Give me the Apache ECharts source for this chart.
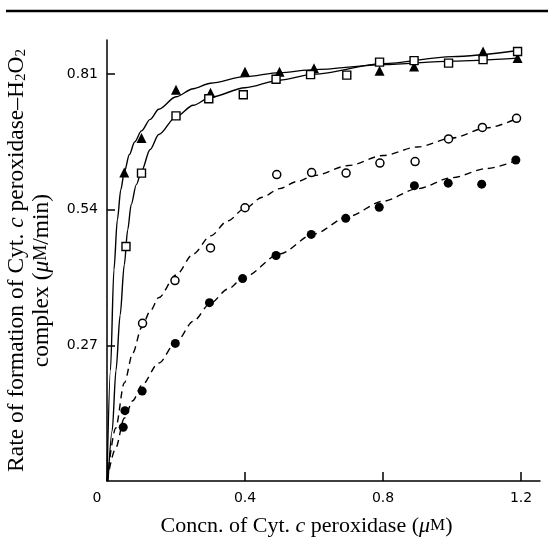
<!DOCTYPE html>
<html>
<head>
<meta charset="utf-8">
<script src="https://cdn.jsdelivr.net/npm/echarts@6/dist/echarts.min.js"></script>
<style>
html,body{margin:0;padding:0;background:#fff;}
#chart{width:548px;height:538px;}
</style>
</head>
<body>
<div id="chart"></div>
<script>
// ---- data ----
// measured points [concn (µM), rate (µM/min)]
const triangles = [[0.05,0.614],[0.10,0.683],[0.20,0.779],[0.30,0.773],[0.40,0.815],[0.50,0.815],[0.60,0.822],[0.79,0.817],[0.89,0.825],[1.09,0.855],[1.19,0.842]];
const squares = [[0.055,0.467],[0.10,0.613],[0.20,0.727],[0.295,0.761],[0.395,0.769],[0.49,0.800],[0.59,0.809],[0.695,0.808],[0.79,0.834],[0.89,0.837],[0.99,0.832],[1.09,0.839],[1.19,0.855]];
const openCircles = [[0.103,0.314],[0.197,0.399],[0.30,0.464],[0.40,0.544],[0.492,0.610],[0.593,0.614],[0.693,0.613],[0.791,0.633],[0.893,0.636],[0.99,0.681],[1.088,0.704],[1.187,0.722]];
const filledCircles = [[0.047,0.107],[0.052,0.140],[0.102,0.179],[0.198,0.274],[0.297,0.355],[0.393,0.403],[0.49,0.449],[0.592,0.491],[0.692,0.523],[0.789,0.545],[0.891,0.588],[0.989,0.593],[1.086,0.591],[1.185,0.639]];
// fitted curves
const triangleCurve = [[0,0],[0.01,0.22],[0.02,0.42],[0.03,0.52],[0.04,0.58],[0.05,0.615],[0.065,0.65],[0.08,0.675],[0.1,0.697],[0.125,0.72],[0.15,0.74],[0.2,0.765],[0.25,0.781],[0.3,0.792],[0.4,0.805],[0.5,0.813],[0.6,0.819],[0.8,0.829],[1.0,0.836],[1.19,0.842]];
const squareCurve = [[0.003,0],[0.015,0.10],[0.026,0.22],[0.038,0.33],[0.05,0.43],[0.06,0.50],[0.07,0.55],[0.085,0.59],[0.1,0.617],[0.125,0.66],[0.15,0.69],[0.2,0.725],[0.25,0.748],[0.3,0.764],[0.4,0.783],[0.5,0.798],[0.6,0.810],[0.8,0.831],[1.0,0.845],[1.19,0.857]];
const openCurve = [[0,0],[0.025,0.105],[0.05,0.195],[0.075,0.255],[0.1,0.305],[0.125,0.338],[0.15,0.365],[0.2,0.41],[0.25,0.452],[0.3,0.488],[0.35,0.518],[0.4,0.543],[0.45,0.565],[0.5,0.582],[0.55,0.596],[0.6,0.608],[0.7,0.628],[0.8,0.648],[0.9,0.665],[1.0,0.683],[1.1,0.703],[1.19,0.722]];
const filledCurve = [[0,0],[0.025,0.065],[0.05,0.125],[0.075,0.16],[0.1,0.19],[0.15,0.235],[0.2,0.276],[0.25,0.318],[0.3,0.354],[0.35,0.382],[0.4,0.407],[0.5,0.452],[0.6,0.492],[0.7,0.527],[0.8,0.557],[0.9,0.582],[1.0,0.604],[1.1,0.622],[1.19,0.639]];
// axis ticks
const xTicks = [0, 0.4, 0.8, 1.2];
const yTicks = [0.27, 0.54, 0.81];

const serif = '"Liberation Serif","DejaVu Serif",serif';
const sans = '"DejaVu Sans",sans-serif';

const chart = echarts.init(document.getElementById('chart'), null, {renderer:'canvas'});

function curve(data, dashed){
  return {type:'line', data:data, showSymbol:false, symbol:'none', smooth:0.3, smoothMonotone:'x',
    silent:true, z:2,
    lineStyle:{color:'#000', width:1.4, type: dashed ? [7,5] : 'solid'}};
}
function pts(data, symbol, size, fill, bw){
  return {type:'scatter', data:data, symbol:symbol, symbolSize:size, z:5,
    itemStyle:{color:fill, borderColor:'#000', borderWidth:bw, opacity:1}};
}

function nameRich(fs, lh, gap){
  return {
    n:{fontFamily:serif, fontSize:fs, color:'#000', lineHeight:lh},
    i:{fontFamily:serif, fontSize:fs, fontStyle:'italic', color:'#000', lineHeight:lh},
    sc:{fontFamily:serif, fontSize:Math.round(fs*0.75), color:'#000', lineHeight:lh},
    s:{fontFamily:serif, fontSize:Math.round(fs*0.65), color:'#000', lineHeight:lh, verticalAlign:'bottom'},
    gap:{width:gap}
  };
}

chart.setOption({
  animation:false,
  backgroundColor:'#fff',
  grid:{left:107, right:8, top:40, bottom:57, outerBoundsMode:'none', containLabel:false},
  xAxis:{
    type:'value', min:0, max:1.255,
    splitLine:{show:false},
    axisLine:{lineStyle:{color:'#000', width:1.5}},
    axisTick:{inside:true, length:9, lineStyle:{color:'#000', width:1.5}, customValues:xTicks.slice(1)},
    axisLabel:{customValues:xTicks, margin:10, color:'#000', fontFamily:sans, fontSize:14,
      formatter:function(v){ return v===0 ? '{z|0}' : v.toFixed(1); },
      rich:{z:{padding:[0,20,0,0], fontFamily:sans, fontSize:14, color:'#000'}}},
    name:'{n|Concn. of Cyt. }{i|c}{n| peroxidase (}{i|μ}{sc|M}{n|)}{gap|}',
    nameLocation:'middle', nameGap:33,
    nameTextStyle:{rich:nameRich(22, 24, 34)}
  },
  yAxis:{
    type:'value', min:0, max:0.878,
    splitLine:{show:false},
    axisLine:{lineStyle:{color:'#000', width:1.5}},
    axisTick:{inside:true, length:8, lineStyle:{color:'#000', width:1.5}, customValues:yTicks},
    axisLabel:{customValues:yTicks, margin:9, color:'#000', fontFamily:sans, fontSize:14,
      formatter:function(v){ return v.toFixed(2); }},
    name:'{n|Rate of formation of Cyt. }{i|c}{n| peroxidase–H}{s|2}{n|O}{s|2}\n{n|complex (}{i|μ}{sc|M}{n|/min)}{gap|}',
    nameLocation:'middle', nameGap:53, nameRotate:90,
    nameTextStyle:{rich:nameRich(23.5, 25, 40), align:'center'}
  },
  graphic:[
    {type:'line', shape:{x1:6, y1:11, x2:548, y2:11}, style:{stroke:'#000', lineWidth:2.5}}
  ],
  series:[
    curve(triangleCurve,false),
    curve(squareCurve,false),
    curve(openCurve,true),
    curve(filledCurve,true),
    pts(triangles,'triangle',10,'#000',0),
    pts(squares,'rect',8,'#fff',1.4),
    pts(openCircles,'circle',8,'#fff',1.5),
    pts(filledCircles,'circle',9,'#000',0)
  ]
});
</script>
</body>
</html>
